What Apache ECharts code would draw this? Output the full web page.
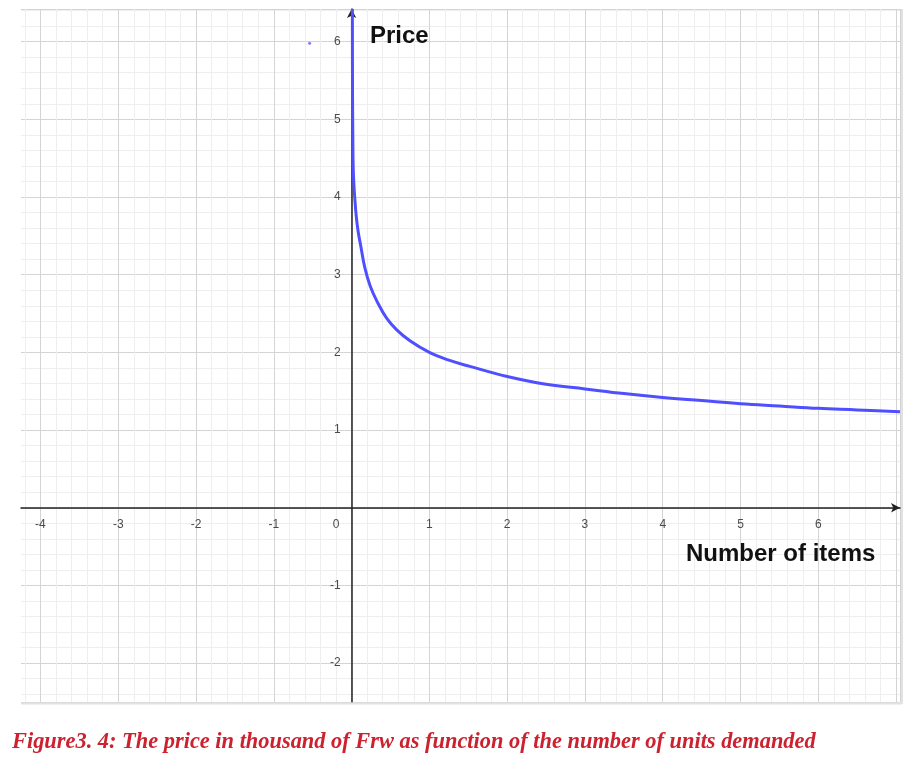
<!DOCTYPE html>
<html>
<head>
<meta charset="utf-8">
<title>Price as function of number of items</title>
<script src="https://cdn.jsdelivr.net/npm/echarts@6/dist/echarts.min.js"></script>
<style>
  html, body { margin: 0; padding: 0; background: #fff; }
  #main { width: 912px; height: 780px; }
</style>
</head>
<body>
<div id="main"></div>
<script>
// curve: number of items -> price (thousand Frw)
var itemsX = [0.01, 0.012, 0.016, 0.02, 0.03, 0.04, 0.06, 0.085, 0.116, 0.17, 0.24, 0.33, 0.45, 0.58, 0.75, 1.0, 1.25, 1.52, 2.0, 2.5, 3.0, 3.5, 4.0, 4.5, 5.0, 5.5, 6.0, 6.5, 7.05];
var priceY = [6.42, 5.3, 4.75, 4.4, 4.15, 4.0, 3.75, 3.55, 3.38, 3.09, 2.85, 2.65, 2.44, 2.29, 2.15, 2.0, 1.9, 1.82, 1.69, 1.59, 1.53, 1.47, 1.42, 1.38, 1.34, 1.31, 1.28, 1.26, 1.235];
// the little stray point left of the y axis
var strayX = [-0.54];
var strayY = [5.98];

// tick labels shown on the graph paper
var xTickLabels = [-4, -3, -2, -1, 0, 1, 2, 3, 4, 5, 6];
var yTickLabels = [-2, -1, 1, 2, 3, 4, 5, 6];

var xRange = [-4.25, 7.05];
var yRange = [-2.5, 6.42];

var xName = 'Number of items';
var yName = 'Price';
var caption = 'Figure3. 4: The price in thousand of Frw as function of the number of units demanded';

var curve = itemsX.map(function (x, i) { return [x, priceY[i]]; });
var stray = strayX.map(function (x, i) { return [x, strayY[i]]; });

var chartDom = document.getElementById('main');
var myChart = echarts.init(chartDom, null, { renderer: 'canvas' });

var labelFont = 'Liberation Sans, Arial, sans-serif';
var majorColor = '#d4d4d4';
var minorColor = '#eeeeee';

var gridBox = { left: 21, top: 9, width: 879, height: 693 };
// axes cross at the origin, so pull both axes (line + labels) in from the grid edges
var xAxisOffset = -gridBox.height * (0 - yRange[0]) / (yRange[1] - yRange[0]);
var yAxisOffset = -gridBox.width * (0 - xRange[0]) / (xRange[1] - xRange[0]);

// first vertical split line sits on the clipped left edge, hide it
var xSplitColors = ['rgba(0,0,0,0)'];
for (var k = 0; k < 13; k++) xSplitColors.push(majorColor);

var findTick = function (list, v) {
    for (var i = 0; i < list.length; i++) {
        if (Math.abs(list[i] - v) < 1e-9) return list[i];
    }
    return null;
};

var option = {
    animation: false,
    backgroundColor: '#fff',
    grid: {
        left: gridBox.left, top: gridBox.top, width: gridBox.width, height: gridBox.height,
        containLabel: false,
        outerBoundsMode: 'none'
    },
    xAxis: {
        type: 'value',
        min: xRange[0],
        max: xRange[1],
        minInterval: 1,
        maxInterval: 1,
        offset: xAxisOffset,
        axisLine: {
            onZero: false,
            symbol: ['none', 'arrow'],
            symbolSize: [7, 9],
            lineStyle: { color: '#222', width: 1.5 }
        },
        axisTick: { show: false },
        axisLabel: {
            margin: 11,
            color: '#4a4a4a',
            fontSize: 12,
            fontFamily: labelFont,
            formatter: function (v) {
                var t = findTick(xTickLabels, v);
                if (t === null) return '';
                if (t === 0) return '{z|0}';
                return String(t);
            },
            rich: { z: { padding: [0, 31, 0, 0], color: '#4a4a4a', fontSize: 12, fontFamily: labelFont } }
        },
        splitLine: { show: true, lineStyle: { color: xSplitColors, width: 1 } },
        minorTick: { show: false, splitNumber: 5 },
        minorSplitLine: { show: true, lineStyle: { color: minorColor, width: 1 } }
    },
    yAxis: {
        type: 'value',
        min: yRange[0],
        max: yRange[1],
        minInterval: 1,
        maxInterval: 1,
        offset: yAxisOffset,
        axisLine: {
            onZero: false,
            symbol: ['none', 'arrow'],
            symbolSize: [7, 9],
            lineStyle: { color: '#222', width: 1.5 }
        },
        axisTick: { show: false },
        axisLabel: {
            margin: 11,
            color: '#4a4a4a',
            fontSize: 12,
            fontFamily: labelFont,
            formatter: function (v) {
                var t = findTick(yTickLabels, v);
                return t === null ? '' : String(t);
            }
        },
        splitLine: { show: true, lineStyle: { color: majorColor, width: 1 } },
        minorTick: { show: false, splitNumber: 5 },
        minorSplitLine: { show: true, lineStyle: { color: minorColor, width: 1 } }
    },
    series: [
        {
            name: yName,
            type: 'line',
            data: curve,
            smooth: 0.4,
            showSymbol: false,
            lineStyle: { color: '#4f4fff', width: 3 },
            z: 5
        },
        {
            type: 'scatter',
            data: stray,
            symbolSize: 3,
            itemStyle: { color: '#5a5aff' }
        }
    ],
    graphic: [
        // soft shadow on the bottom and right edge of the graph paper
        { type: 'line', shape: { x1: 21, y1: 703.5, x2: 902, y2: 703.5 }, style: { stroke: '#e2e2e2', lineWidth: 2 }, z: 1 },
        { type: 'line', shape: { x1: 902, y1: 9, x2: 902, y2: 704 }, style: { stroke: '#e2e2e2', lineWidth: 2 }, z: 1 },
        {
            type: 'text', left: 370, top: 24, z: 10,
            style: { text: yName, fill: '#111', fontSize: 24, fontWeight: 'bold', fontFamily: labelFont }
        },
        {
            type: 'text', left: 686, top: 542, z: 10,
            style: { text: xName, fill: '#111', fontSize: 24, fontWeight: 'bold', fontFamily: labelFont }
        },
        {
            type: 'text', left: 12, top: 731, z: 10,
            style: {
                text: caption, fill: '#cc2230', fontSize: 22.4,
                fontStyle: 'italic', fontWeight: 'bold', fontFamily: 'Liberation Serif, serif'
            }
        }
    ]
};

myChart.setOption(option);
</script>
</body>
</html>
